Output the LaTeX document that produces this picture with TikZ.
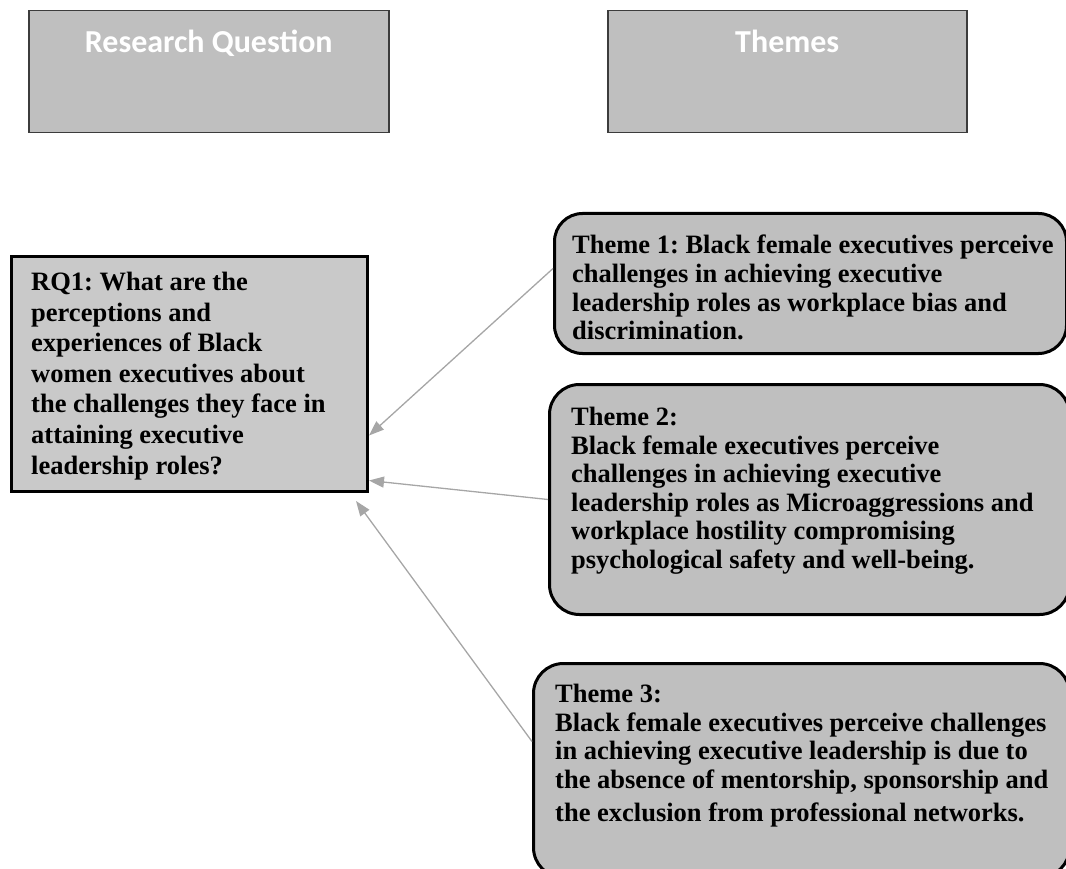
\documentclass[tikz,border=0pt]{standalone}
\usepackage{fontspec}
\setmainfont{Liberation Serif}
\newfontfamily\headfont{Carlito}
\usetikzlibrary{arrows.meta,positioning}
\frenchspacing
\definecolor{boxgray}{RGB}{191,191,191}
\definecolor{rqgray}{RGB}{201,201,201}
\definecolor{linkgray}{RGB}{166,166,166}
\definecolor{headline}{RGB}{60,60,60}
\tikzstyle{headbox} = [draw=headline, fill=boxgray, line width=1.5pt, rectangle, inner sep=0pt, anchor=north west, minimum width=360pt, minimum height=122pt]
\tikzstyle{headtext} = [text=white, font=\headfont\bfseries\fontsize{32}{38}\selectfont, anchor=base, inner sep=0pt]
\tikzstyle{rqbox} = [draw=black, fill=rqgray, line width=3pt, rectangle, inner sep=0pt, anchor=north west]
\tikzstyle{themebox} = [draw=black, fill=boxgray, line width=3pt, rectangle, rounded corners=28pt, inner sep=0pt, anchor=north west]
\tikzstyle{themetext} = [anchor=north west, inner sep=0pt, align=left, font=\bfseries\fontsize{26.5}{28.6}\selectfont]
\tikzstyle{link} = [draw=linkgray, line width=1.3pt, -{Triangle[length=15pt,width=11pt]}]
\begin{document}
\begin{tikzpicture}[x=1pt,y=-1pt]
\useasboundingbox (0,0) rectangle (1066,869);
% headers
\node[headbox] (rqhead) at (28,10) {};
\node[headbox, minimum width=359pt] (themehead) at (607,10) {};
\node[headtext] (rqtitle) at ([yshift=-43pt]rqhead.north) {Research Question};
\node[headtext] (themetitle) at ([yshift=-43pt]themehead.north) {Themes};
% research question
\node[rqbox, minimum width=356pt, minimum height=235pt] (rq) at (10,255) {};
\node[themetext, font=\bfseries\fontsize{26.5}{30.6}\selectfont] (rqtext) at ([shift={(21pt,-17pt)}]rq.north west) {RQ1: What are the\\ perceptions and\\ experiences of Black\\ women executives about\\ the challenges they face in\\ attaining executive\\ leadership roles?};
% themes
\node[themebox, minimum width=512pt, minimum height=140pt] (theme1) at (553,212) {};
\node[themebox, rounded corners=30pt, minimum width=520pt, minimum height=230pt] (theme2) at (548,383) {};
\node[themebox, rounded corners=30pt, minimum width=536pt, minimum height=214pt] (theme3) at (532,662) {};
\begin{scope}
  \clip (theme1.north west) rectangle ([yshift=16pt]theme1.south east);
  \node[themetext] (t1text) at ([shift={(19pt,-23pt)}]theme1.north west) {Theme 1: Black female executives perceive\\ challenges in achieving executive\\ leadership roles as workplace bias and\\ discrimination.};
\end{scope}
\node[themetext] (t2text) at ([shift={(23pt,-24pt)}]theme2.north west) {Theme 2:\\ Black female executives perceive\\ challenges in achieving executive\\ leadership roles as Microaggressions and\\ workplace hostility compromising\\ psychological safety and well-being.};
\node[themetext] (t3text) at ([shift={(23pt,-22pt)}]theme3.north west) {Theme 3:\\ Black female executives perceive challenges\\ in achieving executive leadership is due to\\ the absence of mentorship, sponsorship and\\[5pt] the exclusion from professional networks.};
% links
\draw[link] ([yshift=15pt]theme1.west) -- ([yshift=-61.5pt]rq.east);
\draw[link] (theme2.west) -- ([yshift=-106.5pt]rq.east);
\draw[link] ([yshift=29pt]theme3.west) -- ([shift={(-13pt,-8pt)}]rq.south east);
\end{tikzpicture}
\end{document}
